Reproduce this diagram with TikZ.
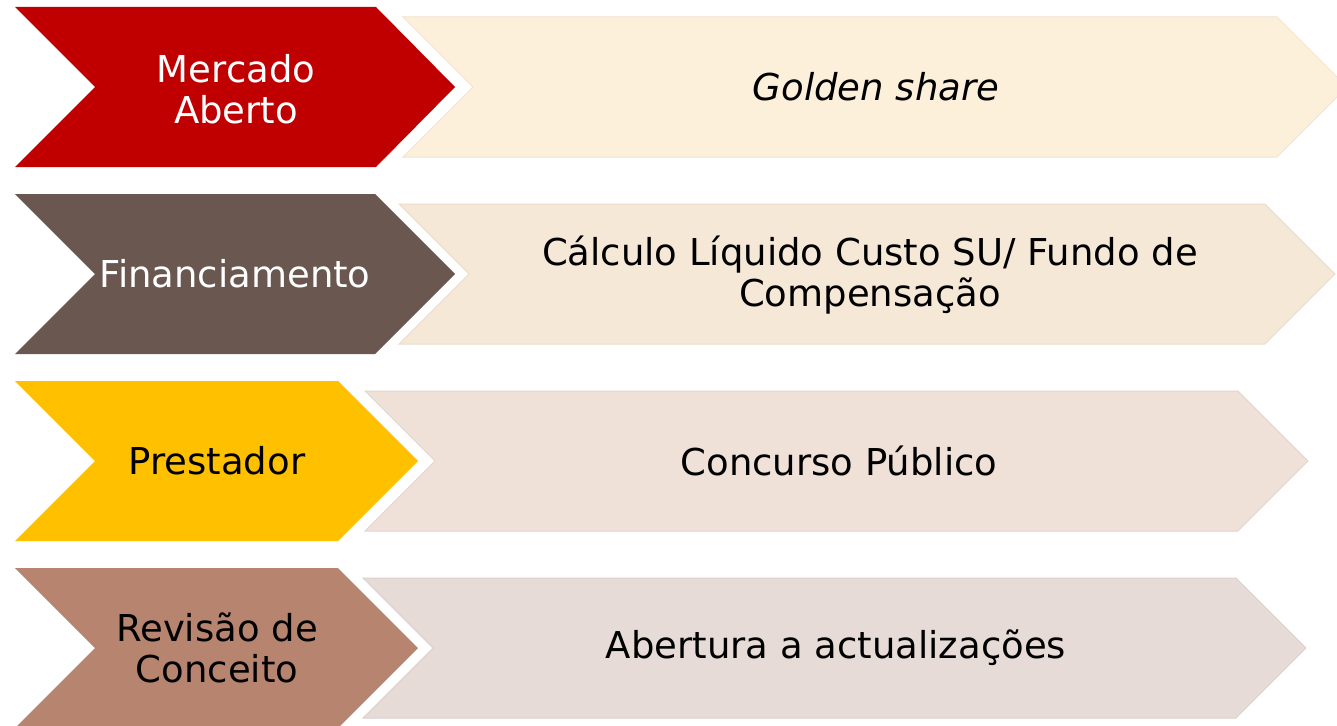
\documentclass[tikz,border=0pt]{standalone}
\usepackage{fontspec}
\setmainfont{DejaVu Sans}
\definecolor{cRed}{HTML}{C00000}
\definecolor{cBrown}{HTML}{6A5750}
\definecolor{cYellow}{HTML}{FFC000}
\definecolor{cRose}{HTML}{B7846F}
\definecolor{bOne}{HTML}{FDF0DB}
\definecolor{bTwo}{HTML}{F6E8D7}
\definecolor{bThree}{HTML}{EFE0D8}
\definecolor{bFour}{HTML}{E7DBD7}
\tikzset{
  lbl/.style={inner sep=0pt, align=center, font=\fontsize{37}{41}\selectfont},
  beigeshape/.style={line width=1pt},
}
\begin{document}
\begin{tikzpicture}[x=1pt,y=-1pt]
\useasboundingbox (0,0) rectangle (1337,725);
\clip (0,0) rectangle (1337,725);
% row 1
\fill[bOne, draw=bOne!95!black, beigeshape] (403,17) -- (1277,17) -- (1347,87) -- (1277,157) -- (403,157) -- (473,87) -- cycle;
\fill[cRed] (15,7) -- (376,7) -- (455,87) -- (376,167) -- (15,167) -- (95,87) -- cycle;
% row 2
\fill[bTwo, draw=bTwo!95!black, beigeshape] (399,204) -- (1265,204) -- (1335,274) -- (1265,344) -- (399,344) -- (469,274) -- cycle;
\fill[cBrown] (15,194) -- (375,194) -- (455,274) -- (375,354) -- (15,354) -- (95,274) -- cycle;
% row 3
\fill[bThree, draw=bThree!95!black, beigeshape] (365,391) -- (1238,391) -- (1308,461) -- (1238,531) -- (365,531) -- (435,461) -- cycle;
\fill[cYellow] (15,381) -- (338,381) -- (418,461) -- (338,541) -- (15,541) -- (95,461) -- cycle;
% row 4
\fill[bFour, draw=bFour!95!black, beigeshape] (363,578) -- (1236,578) -- (1306,648) -- (1236,718) -- (363,718) -- (433,648) -- cycle;
\fill[cRose] (15,568) -- (338,568) -- (418,648) -- (338,728) -- (15,728) -- (95,648) -- cycle;
% labels
\node[lbl, text=white] (l1) at (236,89) {Mercado\\Aberto};
\node[lbl] (r1) at (876,87) {\itshape Golden share};
\node[lbl, text=white] (l2) at (235,274) {Financiamento};
\node[lbl] (r2) at (870,275) {Cálculo Líquido Custo SU/ Fundo de\\Compensação};
\node[lbl] (l3) at (217,461) {Prestador};
\node[lbl] (r3) at (839,461) {Concurso Público};
\node[lbl] (l4) at (217,648) {Revisão de\\Conceito};
\node[lbl] (r4) at (836,648) {Abertura a actualizações};
\end{tikzpicture}
\end{document}
